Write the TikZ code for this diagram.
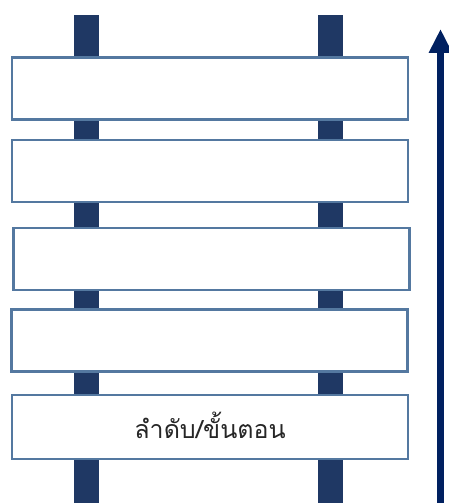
\documentclass[tikz,border=0pt]{standalone}
\usepackage{fontspec}
\newfontfamily\thaifont[Script=Thai]{Loma}
\usetikzlibrary{arrows.meta}
\definecolor{postblue}{RGB}{31,56,100}
\definecolor{boxedge}{RGB}{84,120,160}
\definecolor{arrowblue}{RGB}{0,32,96}
\tikzset{
  post/.style={fill=postblue, draw=none},
  rung/.style={draw=boxedge, line width=2.2pt, fill=white, rectangle, inner sep=0pt,
    minimum width=396pt, minimum height=62pt, font=\thaifont\fontsize{25}{30}\selectfont, text=black!85},
  uparrow/.style={draw=arrowblue, line width=7pt, -{Triangle[width=22pt,length=24pt]}}
}
\begin{document}
\begin{tikzpicture}[x=1pt,y=-1pt]
\useasboundingbox (0,0) rectangle (448,503);
\fill[post] (74,15) rectangle (99,503);
\fill[post] (318,15) rectangle (343,503);
\node[rung] (r1) at (210,88.5) {};
\node[rung] (r2) at (210,171) {};
\node[rung] (r3) at (211.5,259) {};
\node[rung] (r4) at (209.5,340.5) {};
\node[rung, minimum height=64pt] (r5) at (210,427) {\raisebox{4pt}{ลำดับ/ขั้นตอน}};
\coordinate (abot) at (440.5,503);
\coordinate (atop) at (440.5,29);
\draw[uparrow] (abot) -- (atop);
\end{tikzpicture}
\end{document}
